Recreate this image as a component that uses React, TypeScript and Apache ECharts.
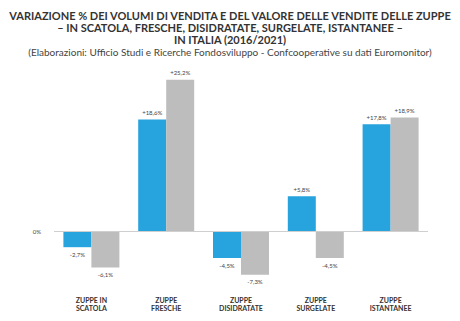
import React, { useEffect, useRef } from "react";
import * as echarts from "echarts";

const categories = [
  "ZUPPE IN\nSCATOLA",
  "ZUPPE\nFRESCHE",
  "ZUPPE\nDISIDRATATE",
  "ZUPPE\nSURGELATE",
  "ZUPPE\nISTANTANEE",
];
const volumi = [-2.7, 18.6, -4.5, 5.8, 17.8];
const valore = [-6.1, 25.2, -7.3, -4.5, 18.9];

const titleLines = [
  "VARIAZIONE % DEI VOLUMI DI VENDITA E DEL VALORE DELLE VENDITE DELLE ZUPPE",
  "– IN SCATOLA, FRESCHE, DISIDRATATE, SURGELATE, ISTANTANEE –",
  "IN ITALIA (2016/2021)",
];
const subtitle =
  "(Elaborazioni: Ufficio Studi e Ricerche Fondosviluppo - Confcooperative su dati Euromonitor)";

const fmt = (v: number) =>
  (v > 0 ? "+" : "") + v.toFixed(1).replace(".", ",") + "%";

const toData = (arr: number[]) =>
  arr.map((v) => ({
    value: v,
    label: { position: v >= 0 ? "top" : "bottom" },
  }));

export default function App() {
  const ref = useRef<HTMLDivElement>(null);
  useEffect(() => {
    if (!ref.current) return;
    const chart = echarts.init(ref.current, null, { renderer: "svg" });
    const labelStyle = {
      show: true,
      formatter: (p: any) => fmt(p.value),
      fontSize: 6,
      color: "#444",
      fontFamily: "Lato",
      distance: 4,
    };
    chart.setOption({
      animation: false,
      graphic: [
        ...titleLines.map((t, i) => ({
          type: "text",
          x: 230,
          y: 15 + i * 12.3,
          style: {
            text: t,
            align: "center",
            verticalAlign: "middle",
            fontFamily: "Lato",
            fontWeight: "bold",
            fontSize: 11,
            fill: "#333",
          },
        })),
        {
          type: "text",
          x: 230,
          y: 52,
          style: {
            text: subtitle,
            align: "center",
            verticalAlign: "middle",
            fontFamily: "Lato",
            fontSize: 10,
            fill: "#444",
          },
        },
      ],
      grid: { left: 54, right: 32, top: 51, bottom: 30 },
      xAxis: {
        type: "category",
        data: categories,
        axisLine: { show: false },
        axisTick: { show: false },
        axisLabel: {
          fontFamily: "Lato",
          fontWeight: "bold",
          fontSize: 7,
          lineHeight: 8,
          color: "#333",
          margin: 5,
        },
      },
      yAxis: {
        type: "value",
        min: -10,
        max: 30,
        interval: 10,
        splitLine: { show: false },
        axisLine: { show: false },
        axisTick: { show: false },
        axisLabel: {
          formatter: (v: number) => (v === 0 ? "0%" : ""),
          fontFamily: "Lato",
          fontSize: 6,
          color: "#444",
          margin: 13,
        },
      },
      series: [
        {
          name: "Volumi",
          type: "bar",
          data: toData(volumi),
          barWidth: 28,
          barGap: "0%",
          itemStyle: { color: "#27A3DD" },
          label: labelStyle,
          markLine: {
            silent: true,
            symbol: "none",
            label: { show: false },
            lineStyle: { color: "#cfcfcf", type: "solid", width: 1 },
            data: [{ yAxis: 0 }],
          },
        },
        {
          name: "Valore",
          type: "bar",
          data: toData(valore),
          barWidth: 28,
          barGap: "0%",
          itemStyle: { color: "#BDBDBD" },
          label: labelStyle,
        },
      ],
    });
    return () => chart.dispose();
  }, []);
  return (
    <div
      ref={ref}
      style={{ position: "absolute", left: 0, top: 0, width: 460, height: 321 }}
    />
  );
}
